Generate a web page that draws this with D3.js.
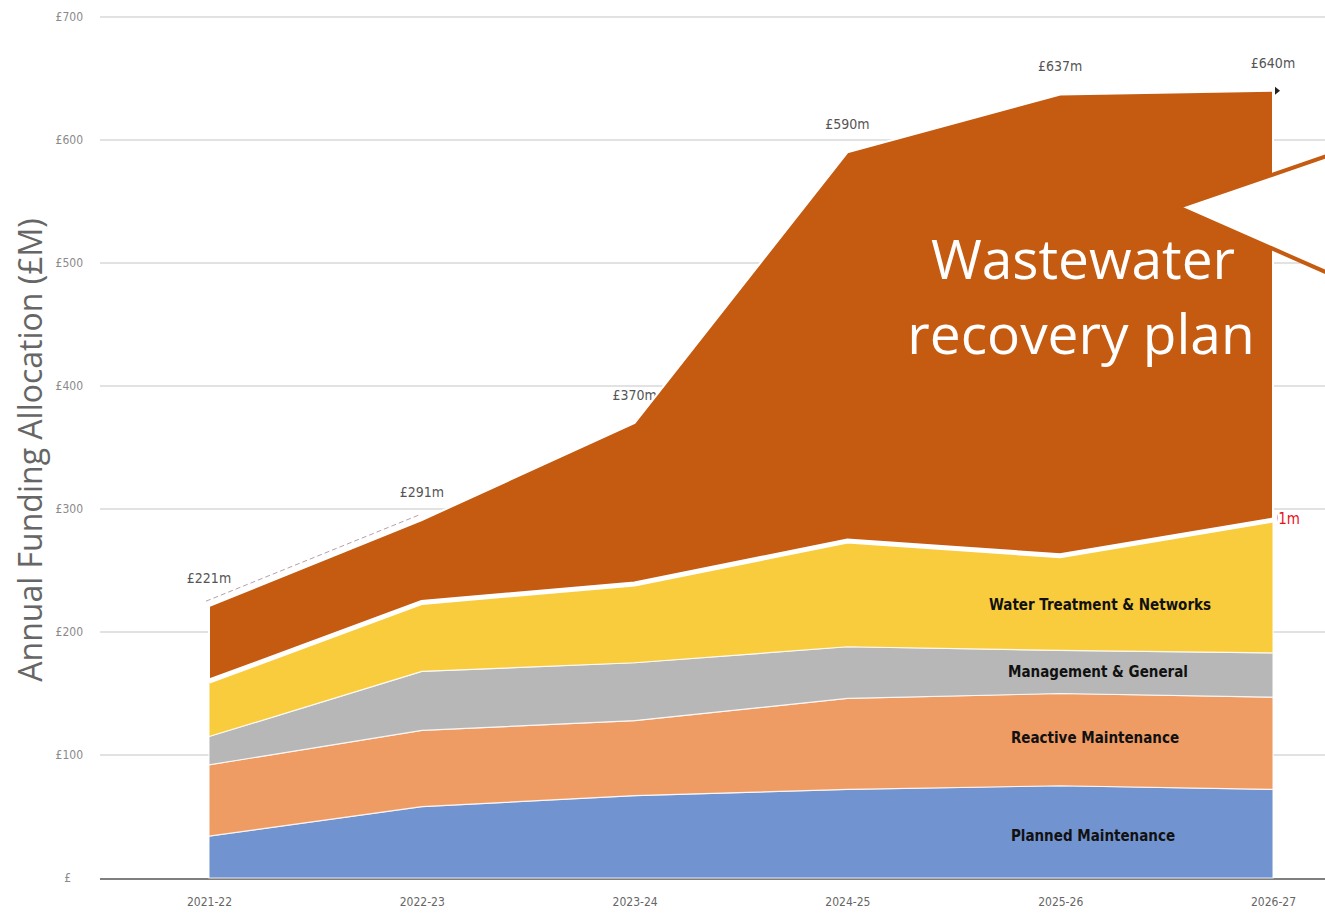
<!DOCTYPE html>
<html>
<head>
<meta charset="utf-8">
<script src="https://cdn.jsdelivr.net/npm/d3@7"></script>
<style>
  html, body { margin: 0; padding: 0; background: #fff; }
  svg { display: block; }
  .narrow { font-family: "DejaVu Sans Condensed", "Liberation Sans Narrow", "Roboto", sans-serif; font-stretch: condensed; }
</style>
</head>
<body>
<svg id="chart" width="1325" height="913"></svg>
<script>
/* ── Data ─────────────────────────────────────────────────────────── */
const years       = ['2021-22', '2022-23', '2023-24', '2024-25', '2025-26', '2026-27'];
const planned     = [34, 58, 67, 72, 75, 72];
const reactive    = [58, 62, 61, 74, 75, 75];
const management  = [23, 48, 47, 42, 35, 36];
const water       = [45, 56, 64, 86, 77, 108];
const wastewater  = [61, 67, 131, 316, 375, 349];
const totalLabels = ['£221m', '£291m', '£370m', '£590m', '£637m', '£640m'];
const yTicks      = [0, 100, 200, 300, 400, 500, 600, 700];

const seriesKeys  = ['planned', 'reactive', 'management', 'water', 'wastewater'];
const seriesNames = ['Planned Maintenance', 'Reactive Maintenance', 'Management & General', 'Water Treatment & Networks', 'Wastewater recovery plan'];
const seriesFill  = ['#7194D0', '#EF9B64', '#B7B7B7', '#F9CC3E', '#C55A11'];

const rows = years.map((yr, i) => ({
  year: yr,
  planned: planned[i], reactive: reactive[i], management: management[i],
  water: water[i], wastewater: wastewater[i]
}));

/* ── Scales ───────────────────────────────────────────────────────── */
const svg = d3.select('#chart');
const x = d3.scalePoint().domain(years).range([209, 1273]);
const y = d3.scaleLinear().domain([0, 700]).range([878, 17]);

const stacked = d3.stack().keys(seriesKeys)(rows);
const total = d => d3.sum(seriesKeys, k => d[k]);
const last = rows[rows.length - 1];

/* ── Grid + axes ──────────────────────────────────────────────────── */
svg.append('g').selectAll('line').data(yTicks.filter(t => t > 0)).join('line')
  .attr('x1', 100).attr('x2', 1325)
  .attr('y1', d => y(d)).attr('y2', d => y(d))
  .attr('stroke', '#d9d9d9').attr('stroke-width', 1.5);

svg.append('line')
  .attr('x1', 100).attr('x2', 1325).attr('y1', y(0) + 1).attr('y2', y(0) + 1)
  .attr('stroke', '#7f7f7f').attr('stroke-width', 2);

const yAxis = svg.append('g').attr('transform', 'translate(83,0)')
  .call(d3.axisLeft(y).tickValues(yTicks).tickSize(0).tickPadding(0)
    .tickFormat(d => d === 0 ? '£' : '£' + d));
yAxis.select('.domain').remove();
yAxis.selectAll('text').attr('class', 'narrow')
  .attr('font-size', 12).attr('fill', '#8a8a8a')
  .attr('dx', d => d === 0 ? -12 : 0);

const xAxis = svg.append('g').attr('transform', `translate(0,${y(0)})`)
  .call(d3.axisBottom(x).tickSize(0).tickPadding(19));
xAxis.select('.domain').remove();
xAxis.selectAll('text').attr('class', 'narrow')
  .attr('font-size', 12).attr('fill', '#666');

svg.append('text')
  .attr('transform', 'translate(42,450) rotate(-90)')
  .attr('text-anchor', 'middle')
  .attr('font-family', '"Open Sans", sans-serif')
  .attr('font-size', 32).attr('fill', '#666')
  .text('Annual Funding Allocation (£M)');

/* ── Stacked areas ────────────────────────────────────────────────── */
const area = d3.area()
  .x(d => x(d.data.year))
  .y0(d => y(d[0]))
  .y1(d => y(d[1]));

// total labels sit beneath the overlay (some get covered)
svg.append('g').selectAll('text').data(rows).join('text')
  .attr('class', 'narrow')
  .attr('x', d => x(d.year))
  .attr('y', d => y(total(d)) - 23)
  .attr('text-anchor', 'middle')
  .attr('font-size', 14).attr('fill', '#555')
  .text((d, i) => totalLabels[i]);

// faint dashed total edge between the first two years
svg.append('path').datum(rows.slice(0, 2))
  .attr('d', d3.line().x(d => x(d.year) - 3).y(d => y(total(d)) - 5))
  .attr('fill', 'none').attr('stroke', '#b9a0a8').attr('stroke-width', 1)
  .attr('stroke-dasharray', '5,3');

svg.append('g').selectAll('path').data(stacked.slice(0, 4)).join('path')
  .attr('d', area)
  .attr('fill', (d, i) => seriesFill[i])
  .attr('stroke', '#fff').attr('stroke-width', 1.2).attr('stroke-opacity', 0.8);

// original plan total label, only its tail shows past the overlay
svg.append('clipPath').attr('id', 'tailClip')
  .append('rect').attr('x', x(last.year) + 4).attr('y', 0).attr('width', 100).attr('height', 913);

svg.append('text').attr('class', 'narrow')
  .attr('clip-path', 'url(#tailClip)')
  .attr('x', x(last.year) + 27)
  .attr('y', y(stacked[3][rows.length - 1][1]) + 4)
  .attr('text-anchor', 'end')
  .attr('font-size', 15).attr('fill', '#e8111b')
  .text('£' + d3.sum(seriesKeys.slice(0, 4), k => last[k]) + 'm');

// wastewater overlay
svg.append('path').datum(stacked[4])
  .attr('d', area)
  .attr('fill', seriesFill[4])
  .attr('stroke', '#fff').attr('stroke-width', 2);

svg.append('path').datum(stacked[3])
  .attr('d', d3.line().x(d => x(d.data.year)).y(d => y(d[1])))
  .attr('fill', 'none').attr('stroke', '#fff').attr('stroke-width', 5);

// tiny arrow at end of total line
const lastTop = y(stacked[4][rows.length - 1][1]);
svg.append('path')
  .attr('d', `M${x(last.year) + 2},${lastTop - 4} l5,4 l-5,4 z`)
  .attr('fill', '#222');

/* ── Series labels ───────────────────────────────────────────────── */
const labelAt = [
  { s: 0, dx: 1093, dy: 836 },
  { s: 1, dx: 1095, dy: 738 },
  { s: 2, dx: 1098, dy: 672 },
  { s: 3, dx: 1100, dy: 605 }
];
svg.append('g').selectAll('text').data(labelAt).join('text')
  .attr('class', 'narrow')
  .attr('x', d => d.dx).attr('y', d => d.dy)
  .attr('dy', '0.35em')
  .attr('text-anchor', 'middle')
  .attr('font-size', 15).attr('font-weight', 'bold').attr('fill', '#111')
  .text(d => seriesNames[d.s]);

/* ── Callout ─────────────────────────────────────────────────────── */
const tipX = x(last.year) - 95, tipY = 207;
svg.append('path')
  .attr('d', `M1330,${tipY - 52} L${tipX},${tipY} L1330,${tipY + 67}`)
  .attr('fill', '#fff').attr('stroke', seriesFill[4]).attr('stroke-width', 4);

const callout = svg.append('text')
  .attr('text-anchor', 'middle')
  .attr('font-family', '"Open Sans", sans-serif')
  .attr('font-size', 55).attr('fill', '#fff');
callout.append('tspan').attr('x', 1083).attr('y', 279).text('Wastewater');
callout.append('tspan').attr('x', 1081).attr('y', 354).text('recovery plan');
</script>
</body>
</html>
